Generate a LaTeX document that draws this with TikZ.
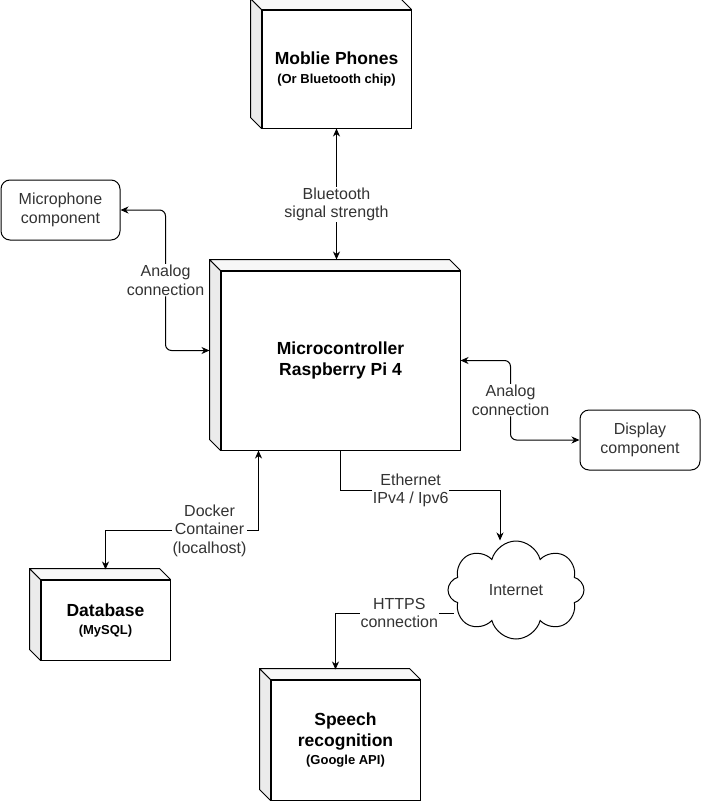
\documentclass[tikz,border=0pt]{standalone}
\usepackage{fontspec}
\setmainfont{Liberation Sans}
\usetikzlibrary{positioning,shapes.symbols,arrows.meta}

\begin{document}
\begin{tikzpicture}[
        x=1pt, y=-1pt,
        line width=1pt,
        device box/.style={rectangle, draw, fill=white, align=center, inner sep=0pt, font=\fontsize{17.5}{21}\selectfont\bfseries},
        component box/.style={rectangle, draw, rounded corners=9pt, align=center, minimum width=119pt, minimum height=60pt, text=black!80, font=\fontsize{16}{19}\selectfont},
        cloud box/.style={cloud, draw, cloud puffs=8, aspect=1.4, minimum width=136pt, minimum height=98pt, text=black!80, font=\fontsize{16}{19}\selectfont},
        signal connection/.style={-{Stealth[length=8pt,width=7pt,inset=2.5pt]}},
        twoway connection/.style={{Stealth[length=8pt,width=7pt,inset=2.5pt]}-{Stealth[length=8pt,width=7pt,inset=2.5pt]}},
        connection label/.style={fill=white, align=center, inner sep=1pt, text=black!80, font=\fontsize{16}{18.5}\selectfont}
    ]
        \useasboundingbox (0,0) rectangle (701,801);

        % Devices (front faces)
        \node[device box, minimum width=149pt, minimum height=118pt] (phone) at (336.5,69) {Moblie Phones\\[-2pt]{\fontsize{13}{16}\selectfont (Or Bluetooth chip)}};
        \node[device box, minimum width=239pt, minimum height=179pt] (mcu) at (340.5,360.5) {Microcontroller\\Raspberry Pi 4};
        \node[device box, minimum width=129pt, minimum height=80pt] (db) at (105.5,620) {Database\\[-3pt]{\fontsize{13}{16}\selectfont (MySQL)}};
        \node[device box, minimum width=149pt, minimum height=120pt] (speech) at (345.5,740) {Speech\\recognition\\[-3pt]{\fontsize{13}{16}\selectfont (Google API)}};

        % Side and top faces
        \foreach \dev in {phone, mcu, db, speech}
        {
            \filldraw[fill=black!8, line join=round] (\dev.north west) -- ++(-11,-11) -- ([shift={(-11,-11)}]\dev.south west) -- (\dev.south west) -- cycle;
            \filldraw[fill=black!3, line join=round] (\dev.north west) -- ++(-11,-11) -- ([shift={(-11,-11)}]\dev.north east) -- (\dev.north east) -- cycle;
        }

        % Components
        \node[component box] (mic) at (60.5,210) {Microphone\\component};
        \node[component box, minimum width=120pt] (disp) at (640,440) {Display\\component};

        % Internet
        \node[cloud box] (net) at (516,590) {Internet};

        % Connection points on the back faces
        \coordinate (mcu-back) at ([shift={(-11,-11)}]mcu.north west);
        \coordinate (mcu-left) at ([shift={(-11,-10)}]mcu.west);
        \coordinate (mcu-dock) at ([shift={(-82,0)}]mcu.south);
        \coordinate (db-top) at ([shift={(0,-10)}]db.north);
        \coordinate (speech-top) at ([shift={(-10,-10)}]speech.north);

        % Connections
        \draw[twoway connection] (phone.south) -- node[connection label, pos=0.58] {Bluetooth\\signal strength} (phone.south |- mcu-back);
        \draw[twoway connection, rounded corners=6pt] (mic.east) -- ++(45,0) |- node[connection label, pos=0.25] {Analog\\connection} (mcu-left);
        \draw[twoway connection, rounded corners=6pt] (mcu.east) -- ++(50,0) |- node[connection label, pos=0.25] {Analog\\connection} (disp.west);
        \draw[twoway connection] (mcu-dock) -- ++(0,80) -| node[connection label, pos=0.16] {Docker\\Container\\(localhost)} (db-top);
        \draw[signal connection] (mcu.south) -- ++(0,40) -| node[connection label, pos=0.22] {Ethernet\\IPv4 / Ipv6} ([xshift=-16pt]net.north);
        \draw[signal connection] ([shift={(6pt,-23pt)}]net.west) -| node[connection label, pos=0.23] {HTTPS\\connection} (speech-top);

\end{tikzpicture}
\end{document}
